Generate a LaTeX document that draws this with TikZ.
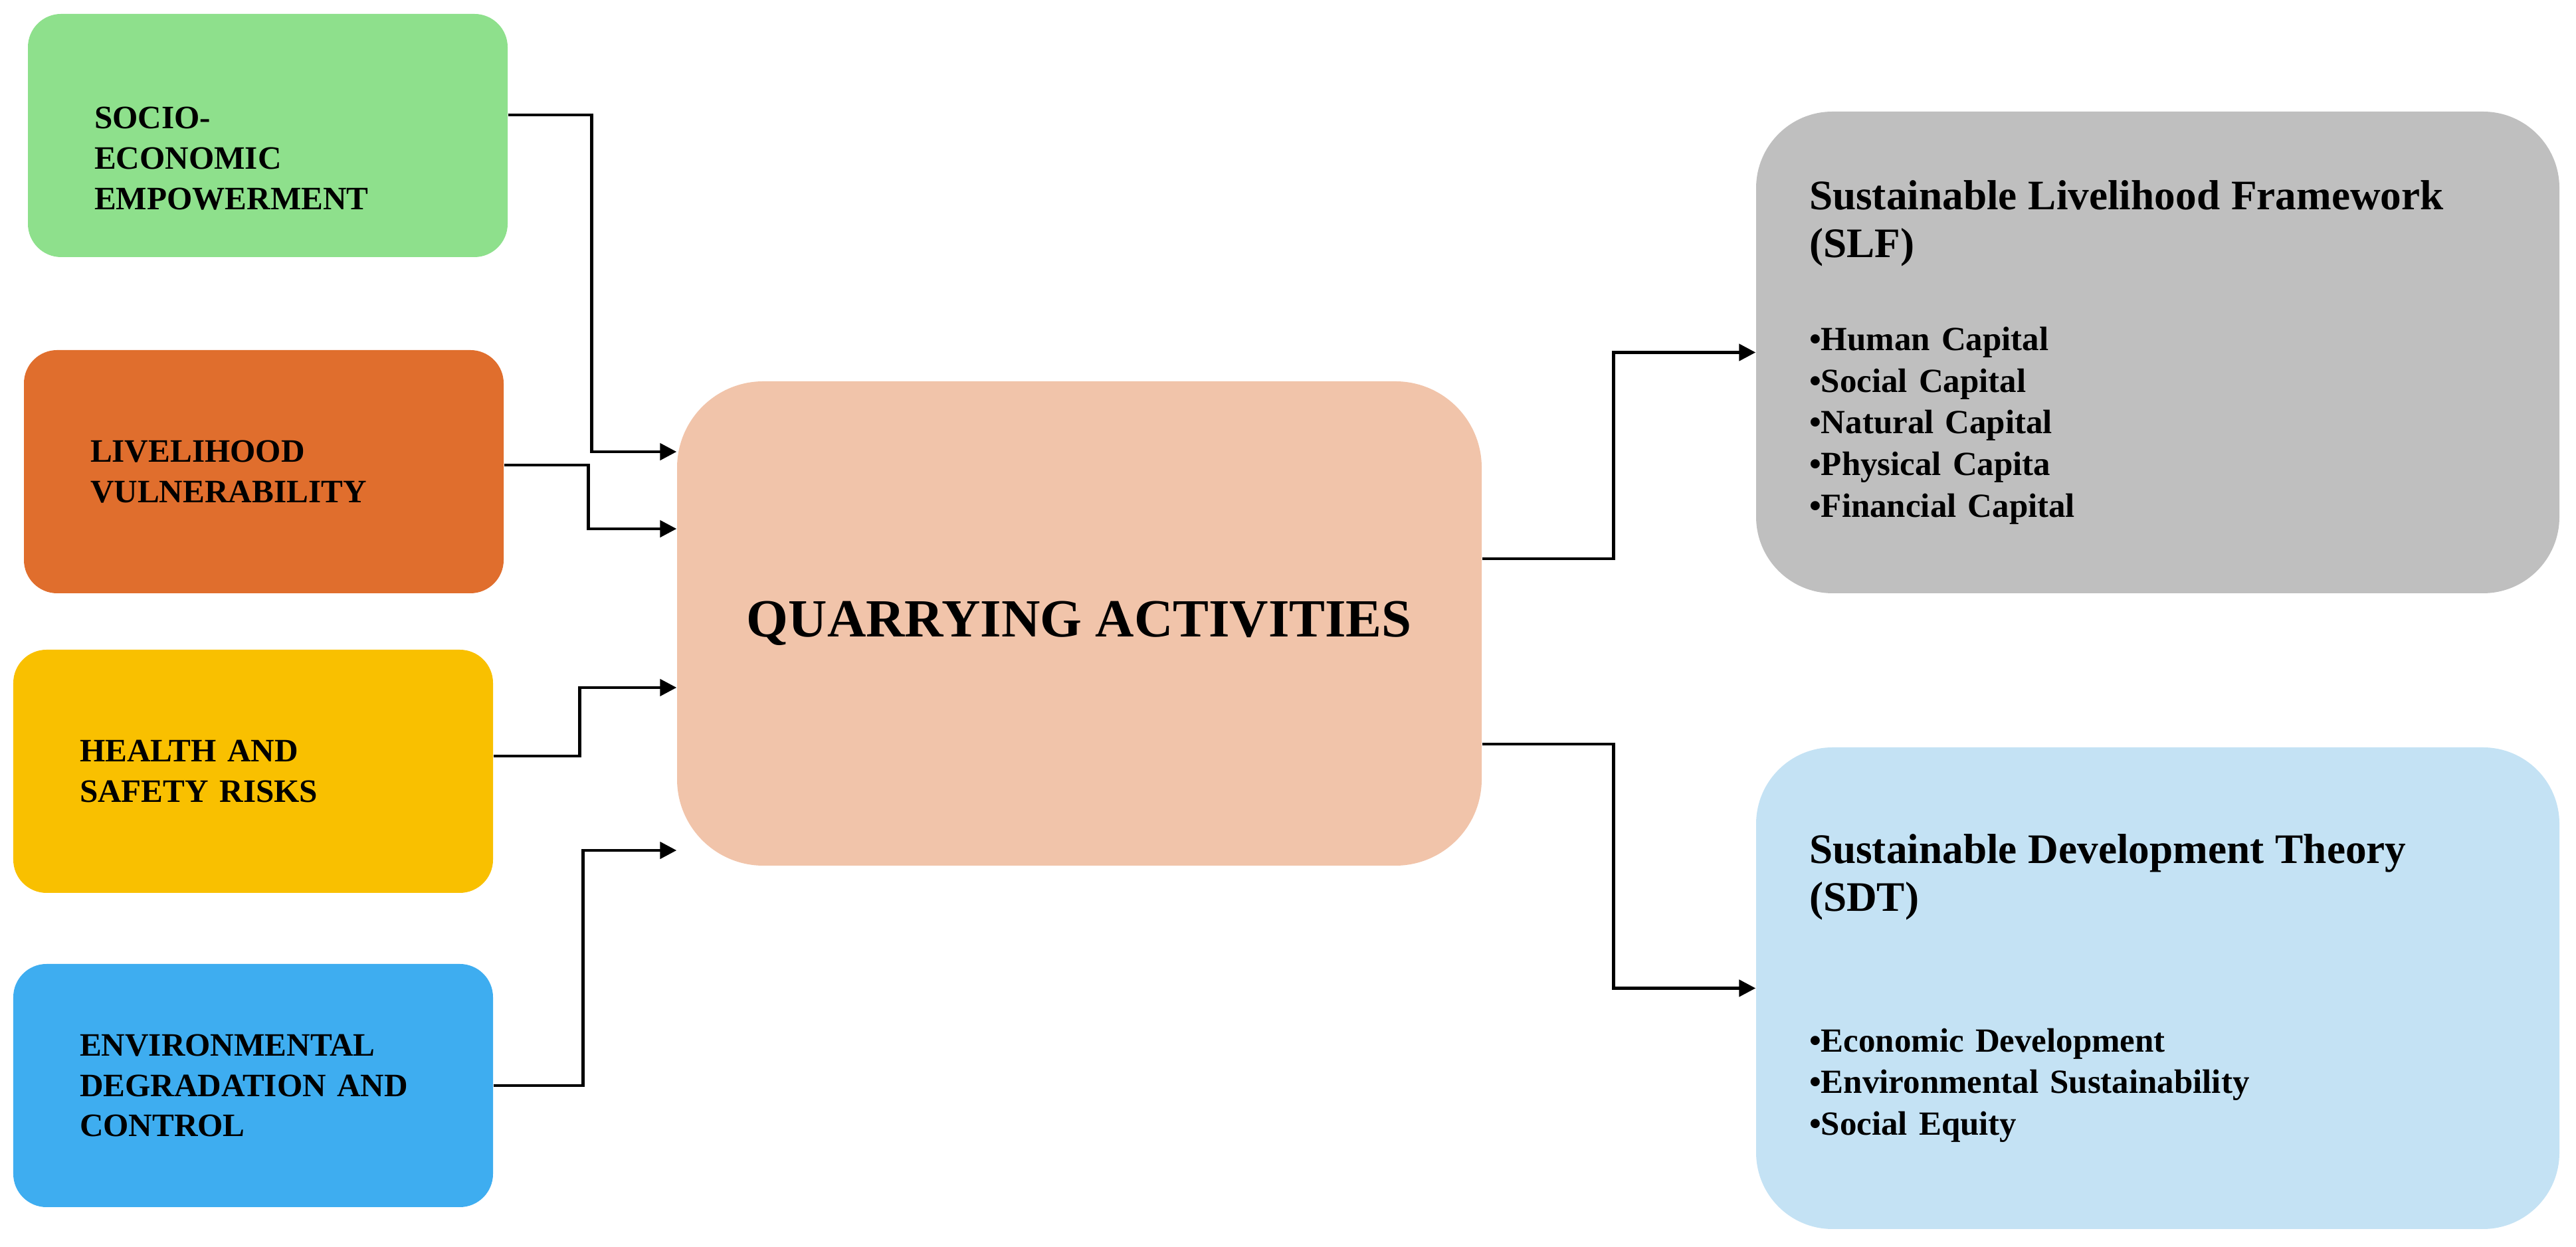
\documentclass[tikz,border=0pt]{standalone}
\usepackage{fontspec}
\setmainfont{Liberation Serif}
\usetikzlibrary{arrows.meta}
\definecolor{empgreen}{RGB}{142,224,140}
\definecolor{vulorange}{RGB}{224,110,45}
\definecolor{riskyellow}{RGB}{249,192,0}
\definecolor{envblue}{RGB}{62,173,240}
\definecolor{quarrypeach}{RGB}{241,196,170}
\definecolor{slfgray}{RGB}{191,191,191}
\definecolor{sdtblue}{RGB}{196,226,244}
\newcommand{\theoryhead}{\fontsize{18}{18}\selectfont}

\begin{document}
\begin{tikzpicture}[
  factor/.style={rounded corners=0.5cm, minimum width=7.22cm, minimum height=3.66cm,
    text width=5.22cm, inner xsep=1cm, align=left,
    font=\fontsize{14}{17.3}\selectfont\bfseries},
  theory/.style={rounded corners=1.15cm, minimum width=12.09cm, minimum height=7.25cm,
    text width=10.49cm, inner xsep=0.8cm, align=left,
    font=\fontsize{14.5}{17.9}\selectfont\bfseries},
  link/.style={line width=1.4pt, -{Triangle[length=2.5mm,width=2.5mm]}}
]
\useasboundingbox (0,0) rectangle (38.77,18.77);
% Factors
\node[factor, fill=empgreen, text height=29pt] (empower) at (4.03,16.73) {SOCIO-\\ECONOMIC\\EMPOWERMENT};
\node[factor, fill=vulorange] (vulner) at (3.97,11.67) {LIVELIHOOD\\VULNERABILITY};
\node[factor, fill=riskyellow] (health) at (3.81,7.16) {HEALTH AND\\SAFETY RISKS};
\node[factor, fill=envblue] (environ) at (3.81,2.43) {ENVIRONMENTAL\\DEGRADATION AND\\CONTROL};
% Quarrying
\node[rounded corners=1.3cm, fill=quarrypeach, minimum width=12.11cm, minimum height=7.29cm,
  font=\fontsize{23}{27}\selectfont\bfseries] (quarry) at (16.245,9.385) {QUARRYING ACTIVITIES};
% Theories
\node[theory, fill=slfgray] (slf) at (32.475,13.465)
  {{\theoryhead Sustainable Livelihood Framework}\\[2.6pt]{\theoryhead (SLF)}\\[21.9pt]
   •Human Capital\\•Social Capital\\•Natural Capital\\•Physical Capita\\•Financial Capital};
\node[theory, fill=sdtblue] (sdt) at (32.475,3.895)
  {{\theoryhead Sustainable Development Theory}\\[2.6pt]{\theoryhead (SDT)}\\[42.4pt]
   •Economic Development\\•Environmental Sustainability\\•Social Equity};
% Links in
\draw[link] ([yshift=3.1mm]empower.east) -- ++(1.26,0) |- ([yshift=25.85mm]quarry.west);
\draw[link] ([yshift=1mm]vulner.east) -- ++(1.27,0) |- ([yshift=14.25mm]quarry.west);
\draw[link] ([yshift=2.3mm]health.east) -- ++(1.30,0) |- ([yshift=-9.65mm]quarry.west);
\draw[link] (environ.east) -- ++(1.35,0) |- ([yshift=-34.15mm]quarry.west);
% Links out
\draw[link] ([yshift=9.75mm]quarry.east) -- ++(1.98,0) |- (slf.west);
\draw[link] ([yshift=-18.15mm]quarry.east) -- ++(1.98,0) |- (sdt.west);
\end{tikzpicture}
\end{document}
